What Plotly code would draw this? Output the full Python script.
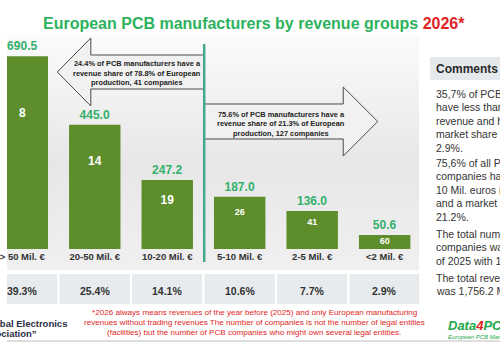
import base64
import plotly.graph_objects as go

# ---------------- data ----------------
categories = ["> 50 Mil. €", "20-50 Mil. €", "10-20 Mil. €", "5-10 Mil. €", "2-5 Mil. €", "<2 Mil. €"]
revenue = [690.5, 445.0, 247.2, 187.0, 136.0, 50.6]
companies = [8, 14, 19, 26, 41, 60]
revenue_share = [39.3, 25.4, 14.1, 10.6, 7.7, 2.9]

title_main = "European PCB manufacturers by revenue groups "
title_year = "2026*"
left_arrow_lines = ["24.4% of PCB manufacturers have a",
                    "revenue share of 78.8% of European",
                    "production, 41 companies"]
right_arrow_lines = ["75.6% of PCB manufacturers have a",
                     "revenue share of 21.3% of European",
                     "production, 127 companies"]
footnote_lines = ["*2026 always means revenues of the year before (2025) and only European manufacturing",
                  "revenues without trading revenues The number of companies is not the number of legal entities",
                  "(facilities) but the number of PCB companies who might own several legal entities."]
comment_paragraphs = [
    ["35,7% of PCB manufacturers", "have less than 2 Mil. euros", "revenue and have a", "market share of only", "2.9%."],
    ["75,6% of all PCB", "companies have less than", "10 Mil. euros in revenue", "and a market share of", "21.2%."],
    ["The total number of PCB", "companies was at the end", "of 2025 with 168."],
    ["The total revenue 2025", "was 1,756.2 Mil. euros."],
]

# ---------------- styling helpers ----------------
W, H = 500, 350
FONT = "Liberation Sans, Arial, sans-serif"
BAR_COLOR = "#5E8E2C"
VALUE_GREEN = "#34B06C"
TITLE_GREEN = "#2DB25E"
RED = "#E02424"
DARK = "#333333"


def px(x):
    return x / W


def py(y):
    return 1 - y / H


def note(x, y, text, size, color=DARK, weight="normal", xanchor="center", xref="paper", family=FONT):
    return dict(xref=xref, yref="paper", x=x, y=y, text=text, showarrow=False,
                xanchor=xanchor, yanchor="middle", borderpad=0,
                font=dict(family=family, size=size, color=color, weight=weight))


base_px, top_px = 249, 35
px_per_unit = 0.279
y_top = (base_px - top_px) / px_per_unit
x_left = -0.211

fig = go.Figure()

# bars
fig.add_trace(go.Bar(
    x=categories, y=revenue, width=0.71,
    marker=dict(color=BAR_COLOR, line=dict(width=0)),
    text=[f"{v:.1f}" for v in revenue], textposition="outside",
    textfont=dict(family=FONT, size=12, color=VALUE_GREEN, weight="bold"),
    cliponaxis=False, hoverinfo="skip", showlegend=False,
))

# company counts inside bars
fig.add_trace(go.Scatter(
    x=categories,
    y=[v * 0.7 if v > 100 else v * 0.5 for v in revenue],
    mode="text", text=[str(c) for c in companies],
    textfont=dict(family=FONT, color="white", weight="bold",
                  size=[12 if v > 200 else 9 for v in revenue]),
    hoverinfo="skip", showlegend=False, cliponaxis=False,
))

# ---------------- background gradient ----------------
svg = ("<svg xmlns='http://www.w3.org/2000/svg' width='418' height='235' preserveAspectRatio='none'>"
       "<defs><linearGradient id='g' x1='0' y1='0' x2='0' y2='1'>"
       "<stop offset='0' stop-color='#FBFBFB'/><stop offset='0.55' stop-color='#E7E7E7'/>"
       "<stop offset='1' stop-color='#F0F0F0'/></linearGradient></defs>"
       "<rect width='418' height='235' fill='url(#g)'/></svg>")
src = "data:image/svg+xml;base64," + base64.b64encode(svg.encode()).decode()

shapes = []
annotations = []

# table row (revenue shares)
for i in range(len(categories)):
    shapes.append(dict(type="rect", xref="x", yref="paper",
                       x0=i - 0.5, x1=i + 0.5, y0=py(305), y1=py(273),
                       fillcolor="#E7EBEE", line=dict(color="white", width=2), layer="above"))
    annotations.append(note(i, py(291), f"{revenue_share[i]:.1f}%", 10.5, DARK, "bold", xref="x"))

# arrows
left_pts = [(51, 72), (85, 38), (85, 55), (200, 55), (200, 89), (85, 89), (85, 106)]
right_pts = [(200, 104), (341, 104), (341, 87), (376, 121.5), (341, 156), (341, 139), (200, 139)]
for pts in (left_pts, right_pts):
    path = "M " + " L ".join(f"{px(a):.5f},{py(b):.5f}" for a, b in pts) + " Z"
    shapes.append(dict(type="path", xref="paper", yref="paper", path=path,
                       fillcolor="#F1F1F1", line=dict(color="#4A4A4A", width=1), layer="above"))

for k, line in enumerate(left_arrow_lines):
    annotations.append(note(px(132), py(64 + 9.3 * k), line, 7.4, "#222222", "bold"))
for k, line in enumerate(right_arrow_lines):
    annotations.append(note(px(278), py(114 + 9.5 * k), line, 7.4, "#222222", "bold"))

# vertical divider
shapes.append(dict(type="line", xref="paper", yref="paper", x0=px(200), x1=px(200), y0=py(262), y1=py(44),
                   line=dict(color="#45A88F", width=2.5), layer="above"))

# bottom rule
shapes.append(dict(type="line", xref="paper", yref="paper", x0=0, x1=1, y0=py(341), y1=py(341),
                   line=dict(color="#BDBDBD", width=1)))

# comments header
shapes.append(dict(type="rect", xref="paper", yref="paper", x0=px(429), x1=px(505), y0=py(80), y1=py(57),
                   fillcolor="#E6E9EC", line=dict(width=0)))
annotations.append(note(px(434), py(68.5), "Comments", 12, "#2A2A2A", "bold", xanchor="left"))

para_tops = [94, 163, 234, 278]
for top, para in zip(para_tops, comment_paragraphs):
    for k, line in enumerate(para):
        annotations.append(note(px(434), py(top + 13.4 * k), line, 10.5, DARK, xanchor="left"))

# title
annotations.append(note(0.5, py(23), f"{title_main}<span style='color:{RED}'>{title_year}</span>",
                        16, TITLE_GREEN, "bold"))

# footnote
for k, line in enumerate(footnote_lines):
    annotations.append(note(px(251), py(312 + 10 * k), line, 8.1, RED))

# logos
annotations.append(note(px(62), py(323), "Global Electronics", 9.5, "#2B2D42", "bold", xanchor="right"))
annotations.append(note(px(31), py(333), "Association\u201d", 9.5, "#2B2D42", "bold", xanchor="right"))
annotations.append(note(px(446), py(325), "<i><b>Data<span style='color:#E02020'>4</span>PCB</b></i>",
                        13, "#22A84A", xanchor="left"))
annotations.append(note(px(446), py(336.5), "<i>European PCB Market Data</i>", 6, "#22A84A", xanchor="left"))

fig.update_layout(
    width=W, height=H,
    margin=dict(l=0, r=0, t=0, b=0),
    paper_bgcolor="white", plot_bgcolor="rgba(0,0,0,0)",
    xaxis=dict(domain=[0, px(418)], range=[x_left, x_left + (418 / 73.5)],
               showgrid=False, zeroline=False, showline=False, ticks="",
               tickfont=dict(family=FONT, size=9.5, color=DARK, weight="bold")),
    yaxis=dict(domain=[py(base_px), py(top_px)], range=[0, y_top], visible=False, fixedrange=True),
    images=[dict(source=src, xref="paper", yref="paper", x=0, y=py(35), sizex=px(418), sizey=235 / H,
                 sizing="stretch", layer="below", xanchor="left", yanchor="top")],
    shapes=shapes, annotations=annotations,
    font=dict(family=FONT),
)

fig.write_html("out.html")
